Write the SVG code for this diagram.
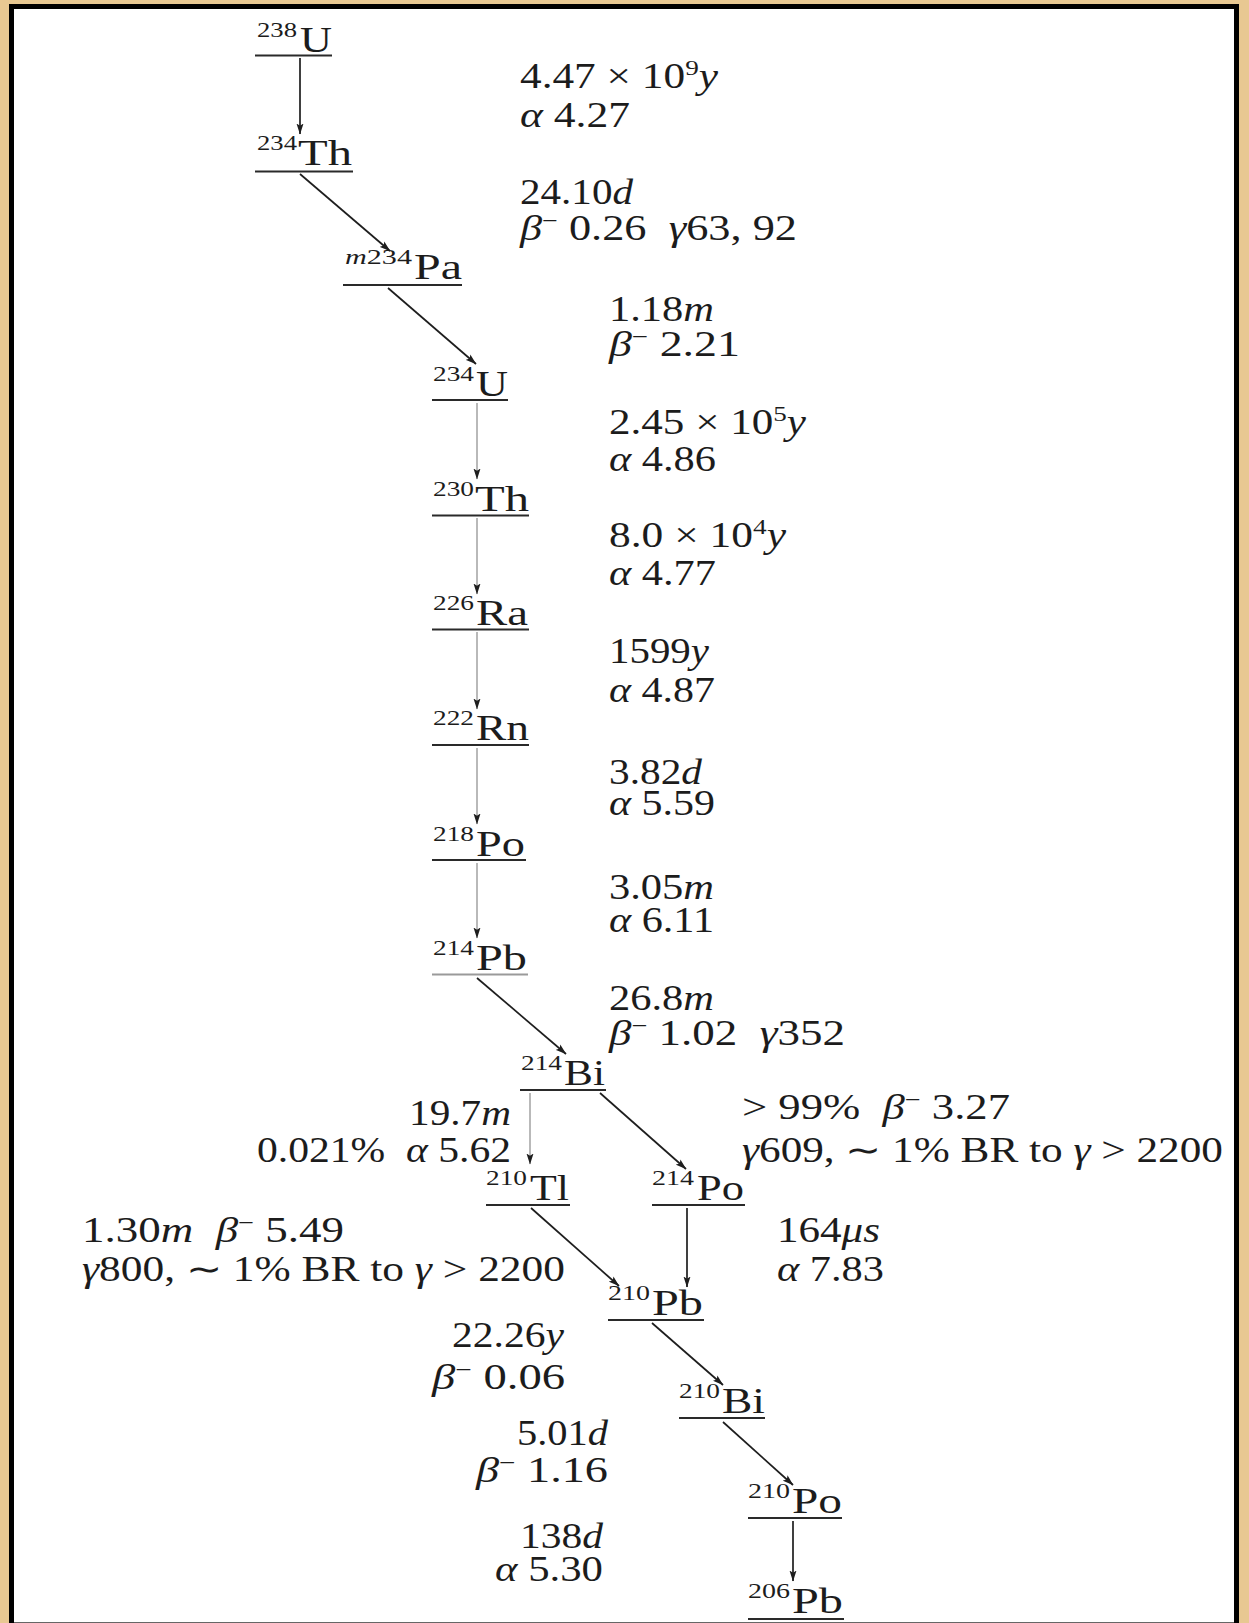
<svg xmlns="http://www.w3.org/2000/svg" width="1249" height="1623" viewBox="0 0 1249 1623">
<style>
.t{font-family:"Liberation Serif",serif;font-size:35px;fill:#1c1c1c;white-space:pre}
.it{font-style:italic}
.sp{font-size:22px}
.el{font-family:"Liberation Serif",serif;font-size:36px;fill:#1c1c1c}
.ss{font-family:"Liberation Serif",serif;font-size:22px;fill:#1c1c1c}
.ul{stroke:#2a2a2a;stroke-width:2.2}
.ln{fill:none;stroke:#1e1e1e;stroke-width:1.7;marker-end:url(#ah)}
.lg{fill:none;stroke:#8a8a8a;stroke-width:1.2;marker-end:url(#ah)}
</style>
<defs>
<marker id="ah" markerUnits="userSpaceOnUse" markerWidth="11" markerHeight="8" viewBox="0 0 11 8" refX="10.5" refY="4" orient="auto">
<path d="M0,0.5 L11,4 L0,7.5 L2.2,4 Z" fill="#1e1e1e"/>
</marker>
</defs>
<rect x="0" y="0" width="1249" height="1623" fill="#E8C892"/>
<rect x="11.5" y="6.5" width="1225" height="1630" fill="#ffffff" stroke="#000000" stroke-width="5"/>
<line x1="14" y1="1622.5" x2="1234" y2="1622.5" stroke="#666666" stroke-width="1"/>

<g id="connectors">
<line class="ln" x1="300" y1="58" x2="300" y2="134"/>
<line class="ln" x1="300" y1="174" x2="390" y2="251"/>
<line class="ln" x1="388" y1="288" x2="476" y2="364"/>
<line class="lg" x1="477" y1="403" x2="477" y2="479"/>
<line class="lg" x1="477" y1="518" x2="477" y2="594"/>
<line class="lg" x1="477" y1="632" x2="477" y2="709"/>
<line class="lg" x1="477" y1="748" x2="477" y2="824"/>
<line class="lg" x1="477" y1="863" x2="477" y2="938"/>
<line class="ln" x1="477" y1="978" x2="566" y2="1054"/>
<line class="lg" x1="530" y1="1093" x2="530" y2="1164"/>
<line class="ln" x1="600" y1="1093" x2="686" y2="1169"/>
<line class="ln" x1="531" y1="1208" x2="619" y2="1286"/>
<line class="ln" x1="687" y1="1208" x2="687" y2="1287"/>
<line class="ln" x1="652" y1="1323" x2="723" y2="1385"/>
<line class="ln" x1="723" y1="1422" x2="793" y2="1485"/>
<line class="ln" x1="793" y1="1521" x2="793" y2="1581"/>
</g>

<g id="n238U"><text class="ss" x="257" y="37" textLength="40" lengthAdjust="spacingAndGlyphs">238</text><text class="el" x="300" y="52" textLength="32" lengthAdjust="spacingAndGlyphs">U</text><line class="ul" x1="255" y1="55.5" x2="332" y2="55.5"/></g>
<g id="n234Th"><text class="ss" x="257" y="150" textLength="40" lengthAdjust="spacingAndGlyphs">234</text><text class="el" x="298" y="165" textLength="54" lengthAdjust="spacingAndGlyphs">Th</text><line class="ul" x1="255" y1="171.5" x2="353" y2="171.5"/></g>
<g id="nm234Pa"><text class="ss" x="345" y="264" textLength="67" lengthAdjust="spacingAndGlyphs"><tspan class="it">m</tspan>234</text><text class="el" x="414" y="279" textLength="48" lengthAdjust="spacingAndGlyphs">Pa</text><line class="ul" x1="343" y1="285" x2="462" y2="285"/></g>
<g id="n234U"><text class="ss" x="433" y="381" textLength="41" lengthAdjust="spacingAndGlyphs">234</text><text class="el" x="476" y="396" textLength="32" lengthAdjust="spacingAndGlyphs">U</text><line class="ul" x1="432" y1="400" x2="508" y2="400"/></g>
<g id="n230Th"><text class="ss" x="433" y="496" textLength="41" lengthAdjust="spacingAndGlyphs">230</text><text class="el" x="475" y="511" textLength="54" lengthAdjust="spacingAndGlyphs">Th</text><line class="ul" x1="432" y1="515.5" x2="529" y2="515.5"/></g>
<g id="n226Ra"><text class="ss" x="433" y="610" textLength="41" lengthAdjust="spacingAndGlyphs">226</text><text class="el" x="476" y="625" textLength="52" lengthAdjust="spacingAndGlyphs">Ra</text><line class="ul" x1="432" y1="629.5" x2="529" y2="629.5"/></g>
<g id="n222Rn"><text class="ss" x="433" y="725" textLength="41" lengthAdjust="spacingAndGlyphs">222</text><text class="el" x="476" y="740" textLength="53" lengthAdjust="spacingAndGlyphs">Rn</text><line class="ul" x1="432" y1="745" x2="529" y2="745"/></g>
<g id="n218Po"><text class="ss" x="433" y="841" textLength="41" lengthAdjust="spacingAndGlyphs">218</text><text class="el" x="476" y="856" textLength="49" lengthAdjust="spacingAndGlyphs">Po</text><line class="ul" x1="432" y1="860" x2="526" y2="860"/></g>
<g id="n214Pb"><text class="ss" x="433" y="955" textLength="41" lengthAdjust="spacingAndGlyphs">214</text><text class="el" x="476" y="970" textLength="51" lengthAdjust="spacingAndGlyphs">Pb</text><line x1="432" y1="974.5" x2="528" y2="974.5" stroke="#9a9a9a" stroke-width="2"/></g>
<g id="n214Bi"><text class="ss" x="521" y="1070" textLength="41" lengthAdjust="spacingAndGlyphs">214</text><text class="el" x="564" y="1085" textLength="41" lengthAdjust="spacingAndGlyphs">Bi</text><line class="ul" x1="520" y1="1090" x2="606" y2="1090"/></g>
<g id="n210Tl"><text class="ss" x="486" y="1185" textLength="41" lengthAdjust="spacingAndGlyphs">210</text><text class="el" x="530" y="1200" textLength="39" lengthAdjust="spacingAndGlyphs">Tl</text><line class="ul" x1="486" y1="1205" x2="570" y2="1205"/></g>
<g id="n214Po"><text class="ss" x="652" y="1185" textLength="42" lengthAdjust="spacingAndGlyphs">214</text><text class="el" x="697" y="1200" textLength="47" lengthAdjust="spacingAndGlyphs">Po</text><line class="ul" x1="652" y1="1205" x2="745" y2="1205"/></g>
<g id="n210Pb"><text class="ss" x="608" y="1300" textLength="42" lengthAdjust="spacingAndGlyphs">210</text><text class="el" x="652" y="1315" textLength="51" lengthAdjust="spacingAndGlyphs">Pb</text><line class="ul" x1="608" y1="1320" x2="704" y2="1320"/></g>
<g id="n210Bi"><text class="ss" x="679" y="1398" textLength="41" lengthAdjust="spacingAndGlyphs">210</text><text class="el" x="722" y="1413" textLength="43" lengthAdjust="spacingAndGlyphs">Bi</text><line class="ul" x1="679" y1="1418" x2="765" y2="1418"/></g>
<g id="n210Po"><text class="ss" x="748" y="1498" textLength="42" lengthAdjust="spacingAndGlyphs">210</text><text class="el" x="792" y="1513" textLength="50" lengthAdjust="spacingAndGlyphs">Po</text><line class="ul" x1="748" y1="1518" x2="842" y2="1518"/></g>
<g id="n206Pb"><text class="ss" x="748" y="1598" textLength="42" lengthAdjust="spacingAndGlyphs">206</text><text class="el" x="792" y="1613" textLength="51" lengthAdjust="spacingAndGlyphs">Pb</text><line class="ul" x1="748" y1="1619" x2="844" y2="1619"/></g>

<g id="labels">
<text class="t" x="520" y="88" textLength="198" lengthAdjust="spacingAndGlyphs">4.47 × 10<tspan class="sp" dy="-13">9</tspan><tspan class="it" dy="13">y</tspan></text>
<text class="t" x="520" y="127" textLength="110" lengthAdjust="spacingAndGlyphs"><tspan class="it">α</tspan> 4.27</text>
<text class="t" x="520" y="204" textLength="113" lengthAdjust="spacingAndGlyphs">24.10<tspan class="it">d</tspan></text>
<text class="t" x="520" y="240" textLength="277" lengthAdjust="spacingAndGlyphs"><tspan class="it">β</tspan><tspan class="sp" dy="-12">−</tspan><tspan dy="12"> 0.26  </tspan><tspan class="it">γ</tspan>63, 92</text>
<text class="t" x="609" y="321" textLength="105" lengthAdjust="spacingAndGlyphs">1.18<tspan class="it">m</tspan></text>
<text class="t" x="609" y="356" textLength="131" lengthAdjust="spacingAndGlyphs"><tspan class="it">β</tspan><tspan class="sp" dy="-12">−</tspan><tspan dy="12"> 2.21</tspan></text>
<text class="t" x="609" y="434" textLength="197" lengthAdjust="spacingAndGlyphs">2.45 × 10<tspan class="sp" dy="-13">5</tspan><tspan class="it" dy="13">y</tspan></text>
<text class="t" x="609" y="471" textLength="107" lengthAdjust="spacingAndGlyphs"><tspan class="it">α</tspan> 4.86</text>
<text class="t" x="609" y="547" textLength="177" lengthAdjust="spacingAndGlyphs">8.0 × 10<tspan class="sp" dy="-13">4</tspan><tspan class="it" dy="13">y</tspan></text>
<text class="t" x="609" y="585" textLength="107" lengthAdjust="spacingAndGlyphs"><tspan class="it">α</tspan> 4.77</text>
<text class="t" x="609" y="663" textLength="100" lengthAdjust="spacingAndGlyphs">1599<tspan class="it">y</tspan></text>
<text class="t" x="609" y="702" textLength="106" lengthAdjust="spacingAndGlyphs"><tspan class="it">α</tspan> 4.87</text>
<text class="t" x="609" y="784" textLength="93" lengthAdjust="spacingAndGlyphs">3.82<tspan class="it">d</tspan></text>
<text class="t" x="609" y="815" textLength="106" lengthAdjust="spacingAndGlyphs"><tspan class="it">α</tspan> 5.59</text>
<text class="t" x="609" y="899" textLength="105" lengthAdjust="spacingAndGlyphs">3.05<tspan class="it">m</tspan></text>
<text class="t" x="609" y="932" textLength="105" lengthAdjust="spacingAndGlyphs"><tspan class="it">α</tspan> 6.11</text>
<text class="t" x="609" y="1010" textLength="105" lengthAdjust="spacingAndGlyphs">26.8<tspan class="it">m</tspan></text>
<text class="t" x="609" y="1045" textLength="236" lengthAdjust="spacingAndGlyphs"><tspan class="it">β</tspan><tspan class="sp" dy="-12">−</tspan><tspan dy="12"> 1.02  </tspan><tspan class="it">γ</tspan>352</text>
<text class="t" x="409" y="1125" textLength="102" lengthAdjust="spacingAndGlyphs">19.7<tspan class="it">m</tspan></text>
<text class="t" x="257" y="1162" textLength="254" lengthAdjust="spacingAndGlyphs">0.021%  <tspan class="it">α</tspan> 5.62</text>
<text class="t" x="742" y="1119" textLength="268" lengthAdjust="spacingAndGlyphs">&gt; 99%  <tspan class="it">β</tspan><tspan class="sp" dy="-12">−</tspan><tspan dy="12"> 3.27</tspan></text>
<text class="t" x="742" y="1162" textLength="481" lengthAdjust="spacingAndGlyphs"><tspan class="it">γ</tspan>609, ∼ 1% BR to <tspan class="it">γ</tspan> &gt; 2200</text>
<text class="t" x="82" y="1242" textLength="262" lengthAdjust="spacingAndGlyphs">1.30<tspan class="it">m</tspan>  <tspan class="it">β</tspan><tspan class="sp" dy="-12">−</tspan><tspan dy="12"> 5.49</tspan></text>
<text class="t" x="82" y="1281" textLength="483" lengthAdjust="spacingAndGlyphs"><tspan class="it">γ</tspan>800, ∼ 1% BR to <tspan class="it">γ</tspan> &gt; 2200</text>
<text class="t" x="777" y="1242" textLength="103" lengthAdjust="spacingAndGlyphs">164<tspan class="it">μs</tspan></text>
<text class="t" x="777" y="1281" textLength="107" lengthAdjust="spacingAndGlyphs"><tspan class="it">α</tspan> 7.83</text>
<text class="t" x="452" y="1347" textLength="112" lengthAdjust="spacingAndGlyphs">22.26<tspan class="it">y</tspan></text>
<text class="t" x="432" y="1389" textLength="133" lengthAdjust="spacingAndGlyphs"><tspan class="it">β</tspan><tspan class="sp" dy="-12">−</tspan><tspan dy="12"> 0.06</tspan></text>
<text class="t" x="517" y="1445" textLength="91" lengthAdjust="spacingAndGlyphs">5.01<tspan class="it">d</tspan></text>
<text class="t" x="476" y="1482" textLength="132" lengthAdjust="spacingAndGlyphs"><tspan class="it">β</tspan><tspan class="sp" dy="-12">−</tspan><tspan dy="12"> 1.16</tspan></text>
<text class="t" x="520" y="1548" textLength="83" lengthAdjust="spacingAndGlyphs">138<tspan class="it">d</tspan></text>
<text class="t" x="495" y="1581" textLength="108" lengthAdjust="spacingAndGlyphs"><tspan class="it">α</tspan> 5.30</text>
</g>
</svg>
